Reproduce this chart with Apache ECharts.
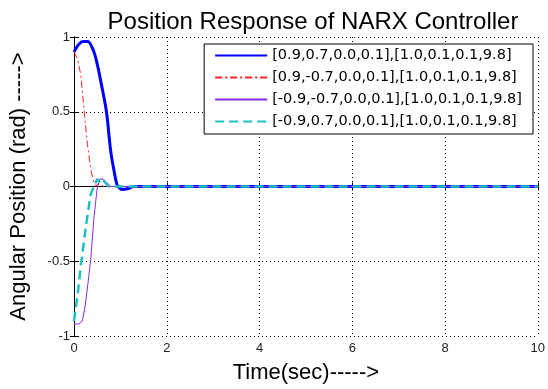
<!DOCTYPE html>
<html>
<head>
<meta charset="utf-8">
<script src="https://cdn.jsdelivr.net/npm/echarts@6/dist/echarts.min.js"></script>
<style>
  html, body { margin: 0; padding: 0; background: #fff; }
  #chart { width: 548px; height: 389px; }
</style>
</head>
<body>
<div id="chart"></div>
<script>
// legend labels
const seriesNames = [
  '[0.9,0.7,0.0,0.1],[1.0,0.1,0.1,9.8]',
  '[0.9,-0.7,0.0,0.1],[1.0,0.1,0.1,9.8]',
  '[-0.9,-0.7,0.0,0.1],[1.0,0.1,0.1,9.8]',
  '[-0.9,0.7,0.0,0.1],[1.0,0.1,0.1,9.8]'
];

// time (sec) and angular position (rad)
const t1 = [0, 0.1, 0.2, 0.3, 0.43, 0.5, 0.58, 0.7, 0.79, 0.86, 0.93, 1.0, 1.05, 1.15, 1.3, 10];
const y1 = [0.9, 0.95, 0.97, 0.97, 0.9, 0.82, 0.7, 0.5, 0.24, 0.11, 0.01, -0.015, -0.02, -0.015, 0, 0];

const t2 = [0, 0.08, 0.15, 0.22, 0.29, 0.36, 0.4, 0.43, 0.47, 0.52, 0.58, 0.65, 0.75, 10];
const y2 = [0.9, 0.85, 0.74, 0.5, 0.28, 0.12, 0.06, 0.03, 0.0, 0.02, 0.01, 0.0, 0.0, 0];

const t3 = [0, 0.1, 0.18, 0.24, 0.3, 0.36, 0.43, 0.5, 0.56, 0.63, 0.7, 0.79, 10];
const y3 = [-0.92, -0.92, -0.9, -0.8, -0.65, -0.49, -0.21, -0.01, 0.05, 0.05, 0.03, 0, 0];

const t4 = [0, 0.08, 0.15, 0.26, 0.36, 0.43, 0.5, 0.58, 0.63, 0.75, 10];
const y4 = [-0.9, -0.72, -0.52, -0.26, -0.05, 0.0, 0.05, 0.02, 0.04, 0, 0];

const xTicks = [0, 2, 4, 6, 8, 10];
const yTicks = [-1, -0.5, 0, 0.5, 1];

const pairs = (t, y) => t.map((v, i) => [v, y[i]]);

const chart = echarts.init(document.getElementById('chart'));

const font = 'Arial, "Liberation Sans", sans-serif';
const frameAxis = {
  axisLine: { show: true, lineStyle: { color: '#000', width: 1 } },
  axisTick: { show: true, inside: true, length: 4, lineStyle: { color: '#000' } },
  axisLabel: { show: false },
  splitLine: { show: false }
};

chart.setOption({
  animation: false,
  title: {
    text: 'Position Response of NARX Controller',
    left: 308,
    textAlign: 'center',
    top: 5,
    textStyle: { fontFamily: font, fontSize: 24, fontWeight: 'normal', color: '#000' }
  },
  legend: {
    data: seriesNames,
    orient: 'vertical',
    right: 15,
    top: 44,
    itemWidth: 52,
    itemHeight: 14,
    itemGap: 7,
    padding: [4, 11, 5, 10],
    backgroundColor: '#fff',
    borderColor: '#000',
    borderWidth: 1,
    borderRadius: 0,
    itemStyle: { opacity: 0 },
    textStyle: { fontFamily: '"DejaVu Sans", sans-serif', fontSize: 14.5, color: '#000' }
  },
  grid: { left: 73, right: 7, top: 37, bottom: 49 },
  xAxis: [
    {
      type: 'value',
      min: 0,
      max: 10,
      interval: 2,
      name: 'Time(sec)----->',
      nameLocation: 'middle',
      nameGap: 26,
      nameTextStyle: { fontFamily: font, fontSize: 22, color: '#000' },
      axisLine: { show: true, lineStyle: { color: '#000', width: 1 } },
      axisTick: { show: true, inside: true, length: 4, lineStyle: { color: '#000' } },
      axisLabel: {
        fontFamily: font, fontSize: 13, color: '#222', margin: 6,
        customValues: xTicks
      },
      splitLine: { show: true, lineStyle: { color: '#000', type: [1, 3], width: 1 } }
    },
    Object.assign({ type: 'value', position: 'top', min: 0, max: 10, interval: 2 }, frameAxis)
  ],
  yAxis: [
    {
      type: 'value',
      min: -1,
      max: 1,
      interval: 0.5,
      name: 'Angular Position (rad) ----->',
      nameLocation: 'middle',
      nameGap: 44,
      nameTextStyle: { fontFamily: font, fontSize: 22, color: '#000' },
      axisLine: { show: true, lineStyle: { color: '#000', width: 1 } },
      axisTick: { show: true, inside: true, length: 4, lineStyle: { color: '#000' } },
      axisLabel: {
        fontFamily: font, fontSize: 13, color: '#222', margin: 4,
        customValues: yTicks
      },
      splitLine: { show: true, lineStyle: { color: '#000', type: [1, 3], width: 1 } }
    },
    Object.assign({ type: 'value', position: 'right', min: -1, max: 1, interval: 0.5 }, frameAxis)
  ],
  series: [
    {
      name: seriesNames[0], type: 'line', symbol: 'none', z: 3, smooth: 0.3,
      lineStyle: { color: '#0000ff', width: 3 }, itemStyle: { color: '#0000ff' },
      data: pairs(t1, y1)
    },
    {
      name: seriesNames[1], type: 'line', symbol: 'none', z: 4,
      lineStyle: { color: '#ff2020', width: 1, type: [7, 3, 2, 3] }, itemStyle: { color: '#ff2020' },
      data: pairs(t2, y2)
    },
    {
      name: seriesNames[2], type: 'line', symbol: 'none', z: 5,
      lineStyle: { color: '#8a2be2', width: 1 }, itemStyle: { color: '#8a2be2' },
      data: pairs(t3, y3)
    },
    {
      name: seriesNames[3], type: 'line', symbol: 'none', z: 6,
      lineStyle: { color: '#20c0c0', width: 2.5, type: [9, 5] }, itemStyle: { color: '#20c0c0' },
      data: pairs(t4, y4)
    }
  ]
});
</script>
</body>
</html>
